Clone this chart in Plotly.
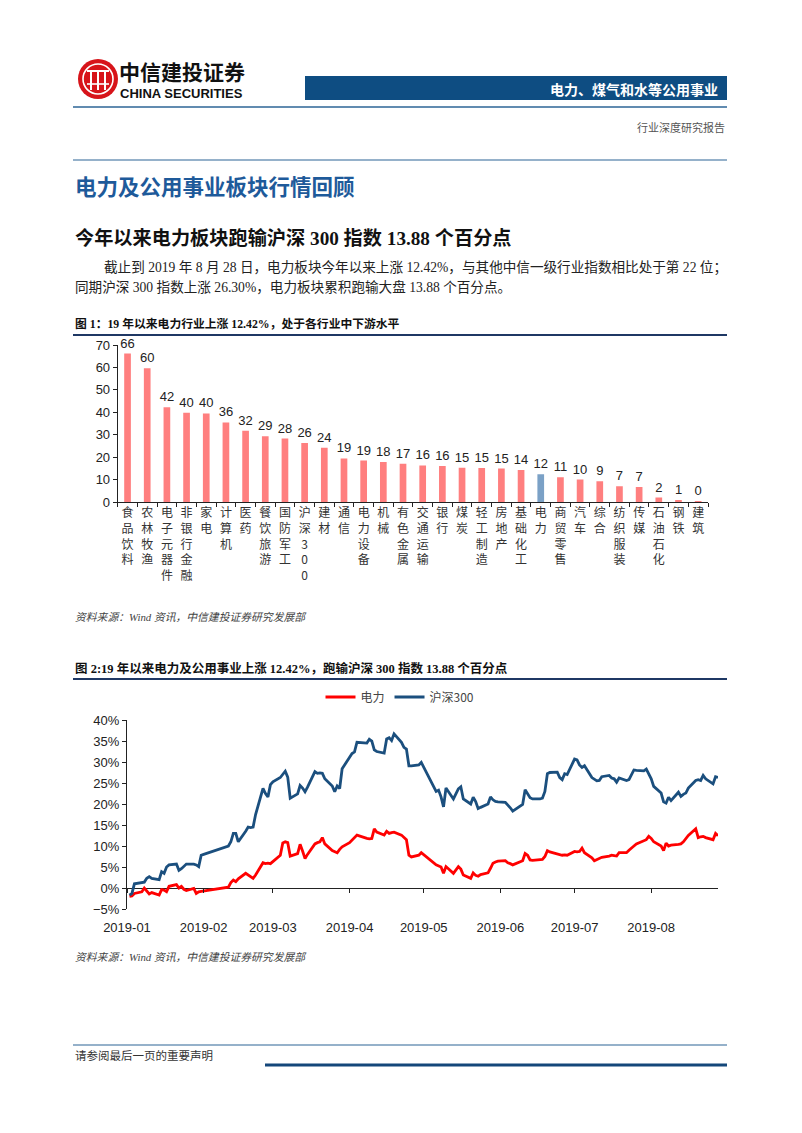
import plotly.graph_objects as go

W, H = 802, 1133
OFF = 8  # page body margin of the html page
def X(p): return (p - OFF) / W
def Y(p): return 1 - (p - OFF) / H

# ---------------- Figure 1 data ----------------
industries = ["食品饮料", "农林牧渔", "电子元器件", "非银行金融", "家电", "计算机", "医药", "餐饮旅游",
              "国防军工", "沪深300", "建材", "通信", "电力设备", "机械", "有色金属", "交通运输", "银行",
              "煤炭", "轻工制造", "房地产", "基础化工", "电力", "商贸零售", "汽车", "综合", "纺织服装",
              "传媒", "石油石化", "钢铁", "建筑"]
ytd_return = [66.2, 59.6, 42.2, 39.8, 39.5, 35.5, 31.8, 29.3, 28.3, 26.3, 24.2, 19.4, 18.5, 17.8, 17.0,
              16.3, 16.0, 15.3, 15.2, 14.9, 14.3, 12.42, 11.0, 10.0, 9.3, 7.0, 6.7, 2.0, 0.7, 0.3]
highlight = "电力"

# ---------------- Figure 2 data ----------------
trade_days = {
    "2019-01": [2, 3, 4, 7, 8, 9, 10, 11, 14, 15, 16, 17, 18, 21, 22, 23, 24, 25, 28, 29, 30, 31],
    "2019-02": [1, 11, 12, 13, 14, 15, 18, 19, 20, 21, 22, 25, 26, 27, 28],
    "2019-03": [1, 4, 5, 6, 7, 8, 11, 12, 13, 14, 15, 18, 19, 20, 21, 22, 25, 26, 27, 28, 29],
    "2019-04": [1, 2, 3, 4, 8, 9, 10, 11, 12, 15, 16, 17, 18, 19, 22, 23, 24, 25, 26, 29, 30],
    "2019-05": [6, 7, 8, 9, 10, 13, 14, 15, 16, 17, 20, 21, 22, 23, 24, 27, 28, 29, 30, 31],
    "2019-06": [3, 4, 5, 6, 10, 11, 12, 13, 14, 17, 18, 19, 20, 21, 24, 25, 26, 27, 28],
    "2019-07": [1, 2, 3, 4, 5, 8, 9, 10, 11, 12, 15, 16, 17, 18, 19, 22, 23, 24, 25, 26, 29, 30, 31],
    "2019-08": [1, 2, 5, 6, 7, 8, 9, 12, 13, 14, 15, 16, 19, 20, 21, 22, 23, 26, 27, 28],
}
dates = [f"{m}-{d:02d}" for m, days in trade_days.items() for d in days]

power = [
    -2.0, -1.9, -1.3, -0.9, 0.0, -0.8, -1.4, -1.1, -1.7, -0.4, -0.5, -0.9, 0.4, 0.8, 0.0, 0.4, -0.3, -0.6, -0.1, -1.3, -0.9, -0.8,
    -0.7, 0.2, 1.3, 1.9, 1.5, 2.2, 3.5, 3.1, 2.8, 2.3, 3.1, 6.0, 5.8, 5.9, 5.8,
    6.3, 7.8, 10.7, 11.0, 10.8, 7.6, 8.2, 10.4, 8.8, 7.0, 8.0, 10.5, 10.8, 11.0, 12.0, 10.5, 8.9, 8.6, 8.4, 9.2, 9.8,
    10.8, 11.4, 12.0, 12.6, 11.8, 11.7, 11.8, 14.1, 13.3, 12.6, 13.5, 13.0, 13.2, 13.3, 12.6, 12.0, 11.5, 7.8, 7.4, 7.8, 8.4,
    5.5, 5.3, 5.0, 3.5, 5.1, 3.5, 4.2, 5.1, 4.5, 3.1, 2.3, 3.6, 3.0, 2.8, 3.2, 3.6, 4.7, 5.9, 6.2, 6.4,
    6.5, 6.0, 5.8, 5.5, 6.5, 8.2, 7.8, 6.7, 6.6, 6.7, 6.8, 7.5, 8.9, 8.6, 8.2, 8.0, 7.8, 7.9, 7.8,
    8.7, 8.6, 8.7, 9.5, 8.4, 7.2, 6.5, 6.8, 7.1, 7.3, 7.6, 7.8, 7.7, 7.6, 8.4, 8.4, 9.0, 9.6, 10.0, 10.5, 11.4, 11.5, 12.3,
    11.8, 11.0, 10.0, 8.9, 10.7, 10.0, 10.2, 10.4, 10.5, 11.0, 11.8, 12.5, 14.1, 12.0, 12.2, 12.3, 12.0, 11.5, 13.0, 12.42,
]
hs300 = [
    -1.7, -1.3, 1.0, 1.4, 1.4, 2.3, 2.7, 2.3, 2.0, 3.9, 3.5, 5.0, 5.5, 5.7, 4.2, 4.6, 5.2, 5.7, 5.7, 5.5, 5.1, 7.8,
    8.0, 10.0, 11.0, 13.0, 13.0, 11.0, 13.5, 14.5, 14.4, 14.5, 17.5, 23.7, 22.5, 21.7, 24.6,
    25.3, 26.3, 27.0, 27.8, 26.4, 21.4, 22.4, 24.4, 23.8, 22.9, 24.0, 27.7, 27.3, 27.4, 27.3, 26.0, 24.3, 22.9, 24.3, 23.7, 28.4,
    31.0, 32.0, 32.4, 34.7, 34.5, 35.4, 35.0, 32.9, 32.5, 32.1, 35.5, 35.8, 35.1, 36.7, 34.7, 33.5, 33.1, 29.1, 29.1, 29.3, 29.9,
    23.0, 23.3, 21.7, 19.3, 23.8, 21.2, 22.5, 23.6, 24.1, 21.2, 20.0, 21.6, 20.6, 18.9, 19.2, 20.0, 21.7, 21.0, 20.6, 20.5,
    20.4, 19.6, 19.1, 18.3, 19.9, 23.4, 22.5, 21.5, 21.2, 21.2, 21.4, 23.0, 27.2, 27.5, 27.6, 26.3, 25.8, 27.2, 27.0,
    30.7, 30.5, 29.3, 28.7, 29.1, 26.3, 25.8, 25.5, 25.6, 26.5, 26.8, 26.2, 26.0, 25.2, 26.2, 25.6, 25.8, 27.0, 28.1, 28.0, 27.9, 28.3, 27.0,
    26.0, 24.2, 22.6, 20.5, 20.2, 21.6, 20.8, 22.8, 21.8, 22.3, 22.6, 23.8, 25.6, 25.8, 25.6, 26.8, 26.0, 24.8, 26.5, 26.3,
]
month_ticks = ["2019-01-01", "2019-02-01", "2019-03-01", "2019-04-01", "2019-05-01",
               "2019-06-01", "2019-07-01", "2019-08-01"]
month_labels = ["2019-01", "2019-02", "2019-03", "2019-04", "2019-05", "2019-06", "2019-07", "2019-08"]

CJK = "Noto Sans CJK SC"
SERIF = "Liberation Serif, Noto Sans CJK SC"
ARIAL = "Liberation Sans, Arial"
BLUE_HDR = "#0E4D82"
NAVY = "#1F3864"

fig = go.Figure()

bar_colors = ["#7BA1C6" if c == highlight else "#FF7F7F" for c in industries]
fig.add_trace(go.Bar(
    x=industries, y=ytd_return, marker_color=bar_colors, marker_line_width=0, width=0.34,
    texttemplate="%{y:.0f}", textposition="outside", cliponaxis=False, constraintext="none",
    textfont=dict(family=ARIAL, size=13, color="#222"),
    showlegend=False, xaxis="x", yaxis="y",
))

fig.add_trace(go.Scatter(x=dates, y=power, mode="lines", name="电力",
                         line=dict(color="#FF0000", width=2.8), xaxis="x2", yaxis="y2"))
fig.add_trace(go.Scatter(x=dates, y=hs300, mode="lines", name="沪深300",
                         line=dict(color="#1B4F7E", width=2.8), xaxis="x2", yaxis="y2"))
# invisible helper for the zero-line tick axis
fig.add_trace(go.Scatter(x=[dates[0]], y=[0], mode="markers", marker=dict(opacity=0),
                         showlegend=False, hoverinfo="skip", xaxis="x3", yaxis="y2"))

tick_text = ["<br>".join(list(c)) for c in industries]

fig.update_layout(
    template="none",
    width=W, height=H, margin=dict(l=0, r=0, t=0, b=0, pad=0), autosize=False,
    paper_bgcolor="white", plot_bgcolor="white",
    font=dict(family=CJK, size=12, color="#222"),
    xaxis=dict(domain=[X(117.7), X(708)], range=[-0.5, 29.5], type="category", automargin=False,
               tickvals=industries, ticktext=tick_text, tickangle=0,
               tickfont=dict(family=CJK, size=12, color="#333"),
               showline=True, linecolor="#222", linewidth=1, ticks="outside", ticklen=4,
               tickcolor="#222", tickson="boundaries", showgrid=False, zeroline=False, anchor="y"),
    yaxis=dict(domain=[Y(502), Y(345)], range=[0, 70], dtick=10, showgrid=False, zeroline=False,
               automargin=False,
               showline=True, linecolor="#222", linewidth=1, ticks="outside", ticklen=4, tickcolor="#222",
               tickfont=dict(family=ARIAL, size=13, color="#222"), anchor="x"),
    xaxis2=dict(domain=[X(127), X(718)], type="date", range=["2019-01-01", "2019-08-28"],
                automargin=False,
                tickvals=month_ticks, ticktext=month_labels, ticks="outside", ticklen=6,
                tickcolor="rgba(0,0,0,0)", showline=False,
                showgrid=False, zeroline=False, tickfont=dict(family=ARIAL, size=13, color="#222"),
                anchor="y2"),
    xaxis3=dict(overlaying="x2", matches="x2", anchor="free", position=Y(888), side="bottom",
                automargin=False,
                tickvals=month_ticks, ticks="outside", ticklen=4, tickcolor="#222",
                showticklabels=False, showline=False, showgrid=False, zeroline=False),
    yaxis2=dict(domain=[Y(909), Y(720)], range=[-5, 40], dtick=5, ticksuffix="%", showgrid=False,
                automargin=False,
                zeroline=True, zerolinecolor="#222", zerolinewidth=1.2,
                showline=True, linecolor="#222", linewidth=1, ticks="outside", ticklen=4, tickcolor="#222",
                tickfont=dict(family=ARIAL, size=13, color="#222"), anchor="x2"),
    legend=dict(orientation="h", x=X(400), xanchor="center", y=Y(697), yanchor="middle",
                font=dict(family=CJK, size=12, color="#444"), bgcolor="rgba(0,0,0,0)"),
    showlegend=True,
)

shapes = []
def hline(y, x0, x1, color, width):
    shapes.append(dict(type="line", xref="paper", yref="paper", x0=X(x0), x1=X(x1), y0=Y(y), y1=Y(y),
                       line=dict(color=color, width=width)))

# header banner
shapes.append(dict(type="rect", xref="paper", yref="paper", x0=X(305), x1=X(727), y0=Y(100), y1=Y(76),
                   fillcolor=BLUE_HDR, line=dict(width=0)))
hline(107, 73, 727, "#2C6496", 1.5)
hline(160, 73, 727, "#2C6496", 1.2)
hline(335, 73, 727, NAVY, 2)
hline(679, 73, 727, NAVY, 2)
hline(1045, 73, 727, "#2C6496", 1.2)
hline(1065, 265, 727, "#14477A", 3)

# logo
shapes.append(dict(type="circle", xref="paper", yref="paper", x0=X(78), x1=X(118), y0=Y(99), y1=Y(59),
                   fillcolor="#D7141A", line=dict(width=0)))
shapes.append(dict(type="circle", xref="paper", yref="paper", x0=X(83), x1=X(113), y0=Y(94), y1=Y(64),
                   fillcolor="rgba(0,0,0,0)", line=dict(color="white", width=1.6)))
for vx in (91, 98, 105):
    shapes.append(dict(type="line", xref="paper", yref="paper", x0=X(vx), x1=X(vx), y0=Y(90), y1=Y(70),
                       line=dict(color="white", width=2)))
shapes.append(dict(type="line", xref="paper", yref="paper", x0=X(87), x1=X(109), y0=Y(71), y1=Y(71),
                   line=dict(color="white", width=2)))
shapes.append(dict(type="line", xref="paper", yref="paper", x0=X(87), x1=X(109), y0=Y(84), y1=Y(84),
                   line=dict(color="white", width=1.6)))

fig.update_layout(shapes=shapes)

ann = []
def text(t, x, y, size, color="#111", family=CJK, anchor="left"):
    ann.append(dict(text=t, x=X(x), y=Y(y), xref="paper", yref="paper", showarrow=False,
                    xanchor=anchor, yanchor="middle", font=dict(family=family, size=size, color=color)))

text("<b>中信建投证券</b>", 117, 71, 21, "#111")
text("<b>CHINA SECURITIES</b>", 118, 93, 13, "#111", ARIAL)
text("<b>电力、煤气和水等公用事业</b>", 720, 89, 14, "white", CJK, "right")
text("行业深度研究报告", 727, 127, 11, "#555", CJK, "right")
text("<b>电力及公用事业板块行情回顾</b>", 73, 185, 21.5, "#1E5A9A")
text("<b>今年以来电力板块跑输沪深 300 指数 13.88 个百分点</b>", 73, 238, 19.2, "#111", SERIF)
text("截止到 2019 年 8 月 28 日，电力板块今年以来上涨 12.42%，与其他中信一级行业指数相比处于第 22 位；",
     102, 268, 13.6, "#222", SERIF)
text("同期沪深 300 指数上涨 26.30%，电力板块累积跑输大盘 13.88 个百分点。", 73, 287, 13.6, "#222", SERIF)
text("<b>图 1：19 年以来电力行业上涨 12.42%，处于各行业中下游水平</b>", 73, 324, 11.8, "#111", SERIF)
text("<i>资料来源：Wind 资讯，中信建投证券研究发展部</i>", 73, 617, 10.8, "#444", SERIF)
text("<b>图 2:19 年以来电力及公用事业上涨 12.42%，跑输沪深 300 指数 13.88 个百分点</b>", 73, 668, 12.5, "#111", SERIF)
text("<i>资料来源：Wind 资讯，中信建投证券研究发展部</i>", 73, 957, 10.8, "#444", SERIF)
text("请参阅最后一页的重要声明", 73, 1055, 11.5, "#333", SERIF)

fig.update_layout(annotations=ann)

fig.write_html("out.html")
